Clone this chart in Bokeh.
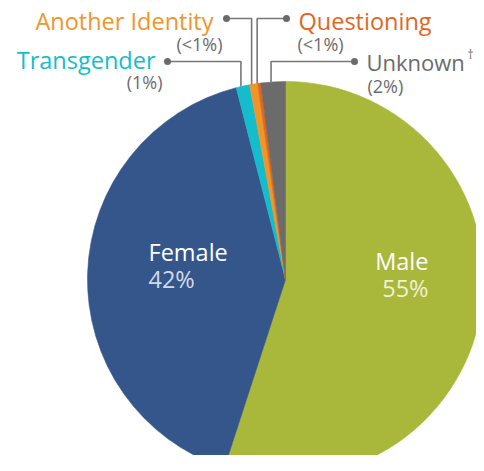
import numpy as np
from bokeh.plotting import figure
from bokeh.models import Range1d
from bokeh.core.properties import value
from bokeh.embed import file_html
from bokeh.resources import INLINE

# ---- data (clockwise from 12 o'clock) ----
categories = ["Male", "Female", "Transgender", "Another Identity", "Questioning", "Unknown"]
shares = [55.0, 41.0, 1.1, 0.65, 0.25, 2.0]
share_labels = ["55%", "42%", "(1%)", "(<1%)", "(<1%)", "(2%)"]
colors = ["#A9B73A", "#35568A", "#14BDCB", "#F0952A", "#E2661C", "#6B6B6B"]
name_colors = ["#FFFFFF", "#FFFFFF", "#14BDCB", "#F0952A", "#E2661C", "#6B6B6B"]

FONT = value("Open Sans")
H = 471  # screen y -> data y = H - y
TXT_SHIFT = 7  # compensate text baseline placement


def Y(s):
    return H - s


def TY(s):
    return H - s + TXT_SHIFT


W_FIG, H_FIG = 476, 455
p = figure(width=W_FIG, height=H_FIG, output_backend="svg", toolbar_location=None,
           x_range=Range1d(0, W_FIG), y_range=Range1d(H - H_FIG, H),
           min_border=0, outline_line_color=None)
p.axis.visible = False
p.grid.visible = False
p.background_fill_color = "white"

CX, CY, R = 285, Y(279), 198

frac = np.array(shares) / sum(shares)
cum_end = np.cumsum(frac)
cum_start = cum_end - frac
start_angle = np.pi / 2 - 2 * np.pi * cum_end
end_angle = np.pi / 2 - 2 * np.pi * cum_start

p.wedge(x=[CX] * len(shares), y=[CY] * len(shares), radius=R,
        start_angle=list(start_angle), end_angle=list(end_angle),
        fill_color=colors, line_color=colors, line_width=0.6)

BIG = "23.5px"
SMALL = "18px"

# ---- inside labels ----
p.text(x=[428], y=[TY(267)], text=[categories[0]], text_font=FONT, text_font_size=BIG,
       text_color="#FFFFFF", text_align="right", text_baseline="alphabetic")
p.text(x=[428], y=[TY(294)], text=[share_labels[0]], text_font=FONT, text_font_size=BIG,
       text_color="#EEF1D6", text_align="right", text_baseline="alphabetic")
p.text(x=[148], y=[TY(258)], text=[categories[1]], text_font=FONT, text_font_size=BIG,
       text_color="#FFFFFF", text_align="left", text_baseline="alphabetic")
p.text(x=[148], y=[TY(285)], text=[share_labels[1]], text_font=FONT, text_font_size=BIG,
       text_color="#D3DBE8", text_align="left", text_baseline="alphabetic")

# ---- outside labels with leader lines ----
# index: (name x, name baseline, align, pct x, pct baseline, dot x, dot y, font size)
outside = {
    2: (155, 66, "right", 162, 88.5, 167, 61, BIG),
    3: (213, 27.5, "right", 222, 50, 226, 18, BIG),
    4: (298, 27.5, "left", 297, 50, 286, 18, BIG),
    5: (366, 68.5, "left", 367, 92, 354, 61, "22px"),
}
for i, (nx, ny, al, px, py, dx, dy, fs) in outside.items():
    mid = (start_angle[i] + end_angle[i]) / 2
    vx = CX + R * np.cos(mid) - 2
    vy = CY + np.sqrt(R ** 2 - (vx - CX) ** 2)
    p.line(x=[dx, vx, vx], y=[Y(dy), Y(dy), vy], line_color="#777777", line_width=1.6)
    p.scatter(x=[dx], y=[Y(dy)], size=7, fill_color="#6B6B6B", line_color=None)
    p.text(x=[nx], y=[TY(ny)], text=[categories[i]], text_font=FONT, text_font_size=fs,
           text_color=name_colors[i], text_align=al, text_baseline="alphabetic")
    p.text(x=[px], y=[TY(py)], text=[share_labels[i]], text_font=FONT, text_font_size=SMALL,
           text_color="#6B6B6B", text_align=al, text_baseline="alphabetic")

p.text(x=[467], y=[TY(61)], text=["\u2020"], text_font=FONT, text_font_size="12px",
       text_color="#6B6B6B", text_align="left", text_baseline="alphabetic")

open("out.html", "w").write(file_html(p, INLINE))
